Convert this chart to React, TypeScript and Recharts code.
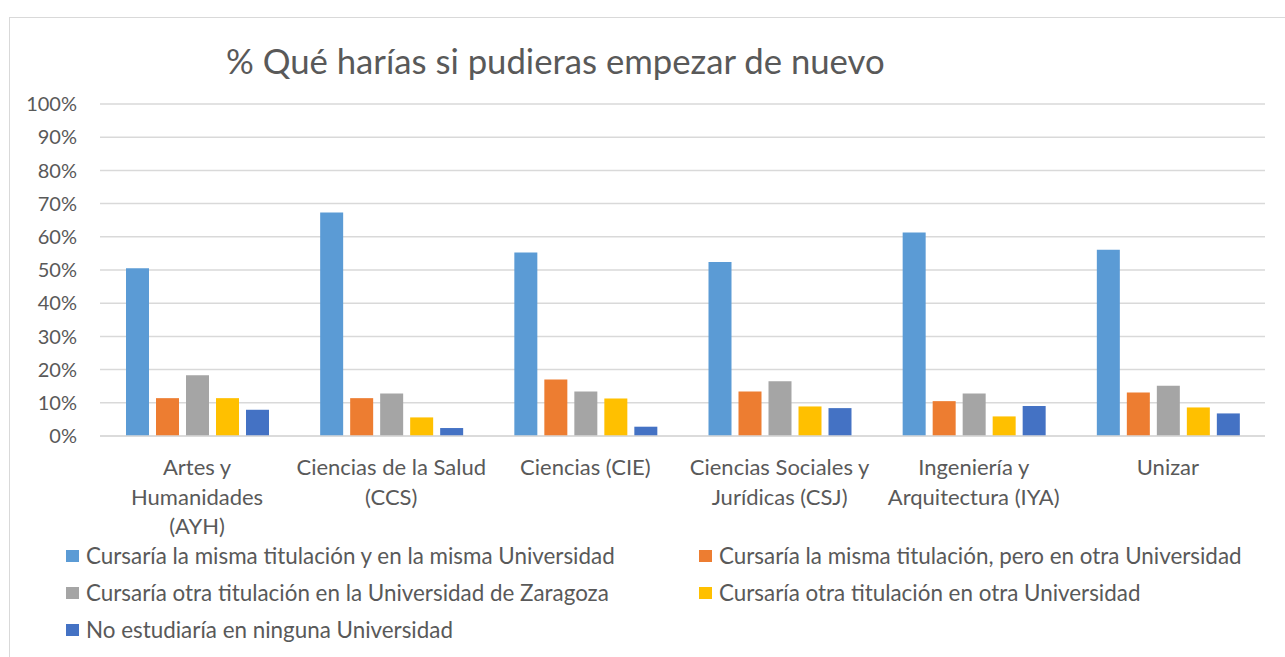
import { BarChart, Bar, XAxis, YAxis, CartesianGrid, Legend } from 'recharts'

const categories = ['Artes y Humanidades (AYH)', 'Ciencias de la Salud (CCS)', 'Ciencias (CIE)', 'Ciencias Sociales y Jurídicas (CSJ)', 'Ingeniería y Arquitectura (IYA)', 'Unizar']
const categoryLines = [['Artes y', 'Humanidades', '(AYH)'], ['Ciencias de la Salud', '(CCS)'], ['Ciencias (CIE)'], ['Ciencias Sociales y', 'Jurídicas (CSJ)'], ['Ingeniería y', 'Arquitectura (IYA)'], ['Unizar']]
const seriesNames = [
  'Cursaría la misma titulación y en la misma Universidad',
  'Cursaría la misma titulación, pero en otra Universidad',
  'Cursaría otra titulación en la Universidad de Zaragoza',
  'Cursaría otra titulación en otra Universidad',
  'No estudiaría en ninguna Universidad',
]
const mismaMisma = [50.5, 67.3, 55.3, 52.4, 61.3, 56.1]
const mismaOtra = [11.4, 11.4, 17.0, 13.4, 10.5, 13.1]
const otraZaragoza = [18.3, 12.8, 13.4, 16.5, 12.8, 15.1]
const otraOtra = [11.4, 5.6, 11.3, 8.9, 5.9, 8.6]
const ninguna = [7.9, 2.4, 2.8, 8.4, 9.0, 6.8]
const yTicks = [0, 10, 20, 30, 40, 50, 60, 70, 80, 90, 100]
const colors = ['#5B9BD5', '#ED7D31', '#A5A5A5', '#FFC000', '#4472C4']

const seriesValues = [mismaMisma, mismaOtra, otraZaragoza, otraOtra, ninguna]
const data = categories.map((c, i) => {
  const row: Record<string, any> = { cat: c, idx: i }
  seriesNames.forEach((s, k) => { row[s] = seriesValues[k][i] })
  return row
})

const FONT = 'Lato, "Open Sans", sans-serif'
const TXT = '#595959'

function CatTick({ x, y, payload }: any) {
  const lines = categoryLines[payload.index] ?? [payload.value]
  return (
    <text x={x} y={y + 31} textAnchor="middle" fill={TXT} fontSize={22} fontFamily={FONT}>
      {lines.map((l, i) => <tspan key={i} x={x} dy={i === 0 ? 0 : 29.5}>{l}</tspan>)}
    </text>
  )
}

function LegendBox() {
  const pos = [[66, 556], [699, 556], [66, 593], [699, 593], [66, 630]]
  return (
    <svg width={1285} height={120} style={{ position: 'absolute', left: 0, top: 0, overflow: 'visible' }}>
      {seriesNames.map((s, i) => (
        <g key={s}>
          <rect x={pos[i][0]} y={pos[i][1] - 6} width={13} height={12} fill={colors[i]} />
          <text x={pos[i][0] + 20} y={pos[i][1] + 8} fill={TXT} fontSize={22.4} fontFamily={FONT}>{s}</text>
        </g>
      ))}
    </svg>
  )
}

export default function App() {
  return (
    <div style={{ position: 'absolute', left: 0, top: 0, width: 1285, height: 657, overflow: 'hidden', background: '#fff' }}>
      <div style={{ position: 'absolute', left: 9, top: 17, width: 1290, height: 700, border: '1px solid #d9d9d9', boxSizing: 'border-box' }} />
      <div style={{ position: 'absolute', left: 226, top: 39, fontSize: 34.7, color: TXT, fontFamily: FONT, whiteSpace: 'nowrap', lineHeight: '44px' }}>
        % Qué harías si pudieras empezar de nuevo
      </div>
      <div style={{ position: 'absolute', left: 0, top: 0 }}>
        <BarChart width={1285} height={657} data={data} margin={{ top: 104, right: 20, bottom: 191, left: 0 }}
          barGap={7} barCategoryGap={26}>
          <CartesianGrid vertical={false} stroke="#d9d9d9" strokeWidth={1.5} />
          <XAxis dataKey="cat" height={30} tick={<CatTick />} tickLine={false} axisLine={{ stroke: '#d9d9d9', strokeWidth: 1.5 }} interval={0} />
          <YAxis width={100} domain={[0, 100]} ticks={yTicks} tickFormatter={(v: number) => `${v}%`}
            tick={{ fill: TXT, fontSize: 20, fontFamily: FONT }} tickLine={false} axisLine={false} tickSize={0} tickMargin={23} />
          {seriesNames.map((s, i) => (
            <Bar key={s} dataKey={s} fill={colors[i]} isAnimationActive={false} />
          ))}
          <Legend content={() => null} />
        </BarChart>
      </div>
      <LegendBox />
    </div>
  )
}
